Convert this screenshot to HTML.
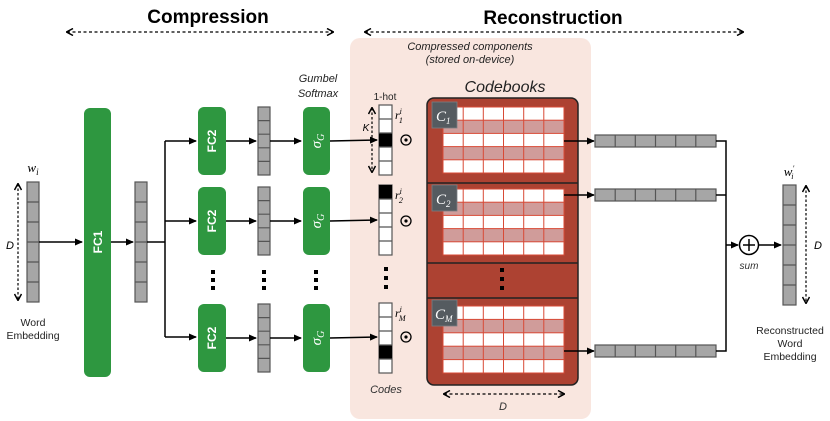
<!DOCTYPE html>
<html><head><meta charset="utf-8"><style>
html,body{margin:0;padding:0;background:#fff;}
svg{display:block;font-family:"Liberation Sans",sans-serif;}
</style></head><body>
<svg width="830" height="421" viewBox="0 0 830 421" xmlns="http://www.w3.org/2000/svg">
<defs>
<marker id="ar" markerWidth="8" markerHeight="8" refX="7" refY="4" orient="auto" markerUnits="userSpaceOnUse"><path d="M0,0.5 L8,4 L0,7.5 z" fill="#000"/></marker>
<marker id="da" markerWidth="8" markerHeight="8" refX="7" refY="4" orient="auto-start-reverse" markerUnits="userSpaceOnUse"><path d="M1,0.5 L7.5,4 L1,7.5" fill="none" stroke="#000" stroke-width="1.5"/></marker>
</defs>
<!-- pink panel -->
<rect x="350" y="38" width="241" height="381" rx="10" fill="#f9e6df"/>
<!-- titles -->
<text x="208" y="23" font-size="19" font-weight="bold" text-anchor="middle">Compression</text>
<text x="553" y="24" font-size="19" font-weight="bold" text-anchor="middle">Reconstruction</text>
<line x1="67" y1="32" x2="333" y2="32" stroke="#000" stroke-width="1.2" stroke-dasharray="3,2.5" marker-start="url(#da)" marker-end="url(#da)"/>
<line x1="365" y1="32" x2="743" y2="32" stroke="#000" stroke-width="1.2" stroke-dasharray="3,2.5" marker-start="url(#da)" marker-end="url(#da)"/>
<text x="470" y="50" font-size="11" font-style="italic" text-anchor="middle" fill="#222">Compressed components</text>
<text x="470" y="63" font-size="11" font-style="italic" text-anchor="middle" fill="#222">(stored on-device)</text>
<text x="318" y="82" font-size="11" font-style="italic" text-anchor="middle" fill="#222">Gumbel</text>
<text x="318" y="97" font-size="11" font-style="italic" text-anchor="middle" fill="#222">Softmax</text>
<text x="385" y="100" font-size="10" text-anchor="middle" fill="#222">1-hot</text>
<text x="505" y="92" font-size="16" font-style="italic" text-anchor="middle" fill="#222">Codebooks</text>

<!-- word embedding -->
<text x="33" y="172" font-size="13" font-style="italic" font-family="Liberation Serif,serif" text-anchor="middle">w<tspan font-size="9" dy="3">i</tspan></text>
<line x1="18" y1="184" x2="18" y2="300" stroke="#000" stroke-width="1.2" stroke-dasharray="2.5,2" marker-start="url(#da)" marker-end="url(#da)"/>
<text x="10" y="249" font-size="11" font-style="italic" text-anchor="middle">D</text>
<g fill="#a6a6a6" stroke="#555" stroke-width="1.2">
<rect x="27" y="182" width="12" height="120"/>
<rect x="135" y="182" width="12" height="120"/>
<rect x="783" y="185" width="13" height="120"/>
</g>
<g stroke="#555" stroke-width="1.2">
<path d="M27 202h12M27 222h12M27 242h12M27 262h12M27 282h12"/>
<path d="M135 202h12M135 222h12M135 242h12M135 262h12M135 282h12"/>
<path d="M783 205h13M783 225h13M783 245h13M783 265h13M783 285h13"/>
</g>
<text x="33" y="326" font-size="10.5" text-anchor="middle" fill="#222">Word</text>
<text x="33" y="339" font-size="10.5" text-anchor="middle" fill="#222">Embedding</text>

<!-- FC1 -->
<rect x="84" y="108" width="27" height="269" rx="6" fill="#2e9740"/>
<text transform="translate(102,242) rotate(-90)" font-size="12" font-weight="bold" fill="#fff" text-anchor="middle">FC1</text>
<line x1="39" y1="242" x2="82" y2="242" stroke="#000" stroke-width="1.5" marker-end="url(#ar)"/>
<line x1="111" y1="242" x2="133" y2="242" stroke="#000" stroke-width="1.5" marker-end="url(#ar)"/>
<path d="M147 242H165M165 141V337" stroke="#000" stroke-width="1.5" fill="none"/>

<!-- rows -->
<g id="row">
</g>
<!-- row boxes -->
<g fill="#2e9740">
<rect x="198" y="107" width="28" height="68" rx="6"/>
<rect x="198" y="187" width="28" height="68" rx="6"/>
<rect x="198" y="304" width="28" height="68" rx="6"/>
<rect x="303" y="107" width="27" height="68" rx="6"/>
<rect x="303" y="187" width="27" height="68" rx="6"/>
<rect x="303" y="304" width="27" height="68" rx="6"/>
</g>
<g font-size="12" font-weight="bold" fill="#fff" text-anchor="middle">
<text transform="translate(216,141) rotate(-90)">FC2</text>
<text transform="translate(216,221) rotate(-90)">FC2</text>
<text transform="translate(216,338) rotate(-90)">FC2</text>
</g>
<g font-size="15" font-style="italic" font-family="Liberation Serif,serif" fill="#fff" text-anchor="middle">
<text transform="translate(321,141) rotate(-90)">σ<tspan font-size="10" dy="3">G</tspan></text>
<text transform="translate(321,221) rotate(-90)">σ<tspan font-size="10" dy="3">G</tspan></text>
<text transform="translate(321,338) rotate(-90)">σ<tspan font-size="10" dy="3">G</tspan></text>
</g>
<g fill="#a6a6a6" stroke="#555" stroke-width="1.2">
<rect x="258" y="107" width="12" height="68"/>
<rect x="258" y="187" width="12" height="68"/>
<rect x="258" y="304" width="12" height="68"/>
</g>
<g stroke="#555" stroke-width="1.2">
<path d="M258 120.6h12M258 134.2h12M258 147.8h12M258 161.4h12"/>
<path d="M258 200.6h12M258 214.2h12M258 227.8h12M258 241.4h12"/>
<path d="M258 317.6h12M258 331.2h12M258 344.8h12M258 358.4h12"/>
</g>
<g stroke="#000" stroke-width="1.5" marker-end="url(#ar)">
<line x1="165" y1="141" x2="196" y2="141"/>
<line x1="165" y1="221" x2="196" y2="221"/>
<line x1="165" y1="337" x2="196" y2="337"/>
<line x1="226" y1="141" x2="256" y2="141"/>
<line x1="226" y1="221" x2="256" y2="221"/>
<line x1="226" y1="338" x2="256" y2="338"/>
<line x1="270" y1="141" x2="301" y2="141"/>
<line x1="270" y1="221" x2="301" y2="221"/>
<line x1="270" y1="338" x2="301" y2="338"/>
<line x1="330" y1="141" x2="377" y2="140"/>
<line x1="330" y1="221" x2="377" y2="220"/>
<line x1="330" y1="338" x2="377" y2="337"/>
</g>
<!-- dots -->
<g fill="#000">
<rect x="211" y="270" width="4" height="4"/><rect x="211" y="278" width="4" height="4"/><rect x="211" y="286" width="4" height="4"/>
<rect x="262" y="270" width="4" height="4"/><rect x="262" y="278" width="4" height="4"/><rect x="262" y="286" width="4" height="4"/>
<rect x="314" y="270" width="4" height="4"/><rect x="314" y="278" width="4" height="4"/><rect x="314" y="286" width="4" height="4"/>
<rect x="384" y="267" width="4" height="4"/><rect x="384" y="276" width="4" height="4"/><rect x="384" y="285" width="4" height="4"/>
</g>

<!-- one-hot codes -->
<g fill="#fff" stroke="#555" stroke-width="1.2">
<rect x="379" y="105" width="13" height="70"/>
<rect x="379" y="185" width="13" height="70"/>
<rect x="379" y="303" width="13" height="70"/>
</g>
<g fill="#000">
<rect x="379" y="133" width="13" height="14"/>
<rect x="379" y="185" width="13" height="14"/>
<rect x="379" y="345" width="13" height="14"/>
</g>
<g stroke="#555" stroke-width="1.2">
<path d="M379 119h13M379 133h13M379 147h13M379 161h13"/>
<path d="M379 199h13M379 213h13M379 227h13M379 241h13"/>
<path d="M379 317h13M379 331h13M379 345h13M379 359h13"/>
</g>
<line x1="372" y1="108" x2="372" y2="172" stroke="#000" stroke-width="1.2" stroke-dasharray="2.5,2" marker-start="url(#da)" marker-end="url(#da)"/>
<text x="366" y="131" font-size="10" font-style="italic" text-anchor="middle">K</text>
<g font-size="12" font-style="italic" font-family="Liberation Serif,serif">
<text x="395" y="119">r<tspan font-size="8" dy="-5">i</tspan><tspan font-size="8" dx="-3" dy="9">1</tspan></text>
<text x="395" y="199">r<tspan font-size="8" dy="-5">i</tspan><tspan font-size="8" dx="-3" dy="9">2</tspan></text>
<text x="395" y="317">r<tspan font-size="8" dy="-5">i</tspan><tspan font-size="8" dx="-3" dy="9">M</tspan></text>
</g>
<g fill="none" stroke="#000" stroke-width="1.3">
<circle cx="406" cy="140" r="5"/><circle cx="406" cy="221" r="5"/><circle cx="406" cy="337" r="5"/>
</g>
<g fill="#000"><circle cx="406" cy="140" r="1.6"/><circle cx="406" cy="221" r="1.6"/><circle cx="406" cy="337" r="1.6"/></g>
<text x="386" y="393" font-size="11" font-style="italic" text-anchor="middle" fill="#333">Codes</text>

<!-- codebooks -->
<rect x="427" y="98" width="151" height="287" rx="7" fill="#ad4232" stroke="#222" stroke-width="1.5"/>
<path d="M427 183H578M427 263H578M427 298H578" stroke="#222" stroke-width="1.5"/>
<g fill="#000"><rect x="500" y="268" width="4" height="4"/><rect x="500" y="277" width="4" height="4"/><rect x="500" y="286" width="4" height="4"/></g>
<!-- grid 1 -->
<g stroke="#d84a36" stroke-width="1">
<rect x="443" y="107" width="121" height="66" fill="#fff"/>
<rect x="443" y="120.2" width="121" height="13.2" fill="#d09c9a"/>
<rect x="443" y="146.6" width="121" height="13.2" fill="#d09c9a"/>
<path d="M463.2 107v66M483.3 107v66M503.5 107v66M523.7 107v66M543.8 107v66" fill="none"/>
<rect x="443" y="189" width="121" height="66" fill="#fff"/>
<rect x="443" y="202.2" width="121" height="13.2" fill="#d09c9a"/>
<rect x="443" y="228.6" width="121" height="13.2" fill="#d09c9a"/>
<path d="M463.2 189v66M483.3 189v66M503.5 189v66M523.7 189v66M543.8 189v66" fill="none"/>
<rect x="443" y="306" width="121" height="67" fill="#fff"/>
<rect x="443" y="319.4" width="121" height="13.4" fill="#d09c9a"/>
<rect x="443" y="346.2" width="121" height="13.4" fill="#d09c9a"/>
<path d="M463.2 306v67M483.3 306v67M503.5 306v67M523.7 306v67M543.8 306v67" fill="none"/>
</g>
<g fill="#555b60" stroke="#7a7f84" stroke-width="0.8">
<rect x="432" y="102" width="25" height="26"/>
<rect x="432" y="185" width="25" height="26"/>
<rect x="432" y="300" width="25" height="26"/>
</g>
<g font-size="15" font-style="italic" font-family="Liberation Serif,serif" fill="#fff">
<text x="436" y="121">C<tspan font-size="9" dy="3">1</tspan></text>
<text x="436" y="204">C<tspan font-size="9" dy="3">2</tspan></text>
<text x="435" y="319">C<tspan font-size="9" dy="3">M</tspan></text>
</g>
<line x1="444" y1="394" x2="564" y2="394" stroke="#000" stroke-width="1.2" stroke-dasharray="3,2.5" marker-start="url(#da)" marker-end="url(#da)"/>
<text x="503" y="410" font-size="11" font-style="italic" text-anchor="middle" fill="#333">D</text>

<!-- outputs -->
<g stroke="#000" stroke-width="1.5" marker-end="url(#ar)">
<line x1="564" y1="141" x2="594" y2="141"/>
<line x1="564" y1="195" x2="594" y2="195"/>
<line x1="564" y1="351" x2="594" y2="351"/>
</g>
<g fill="#a6a6a6" stroke="#555" stroke-width="1.2">
<rect x="595" y="135" width="121" height="12"/>
<rect x="595" y="189" width="121" height="12"/>
<rect x="595" y="345" width="121" height="12"/>
</g>
<g stroke="#555" stroke-width="1.2">
<path d="M615.2 135v12M635.3 135v12M655.5 135v12M675.7 135v12M695.8 135v12"/>
<path d="M615.2 189v12M635.3 189v12M655.5 189v12M675.7 189v12M695.8 189v12"/>
<path d="M615.2 345v12M635.3 345v12M655.5 345v12M675.7 345v12M695.8 345v12"/>
</g>
<path d="M716 141H726V351H716M716 195H726" stroke="#000" stroke-width="1.5" fill="none"/>
<line x1="726" y1="245" x2="738" y2="245" stroke="#000" stroke-width="1.5" marker-end="url(#ar)"/>
<circle cx="749" cy="245" r="9.5" fill="#fff" stroke="#000" stroke-width="1.5"/>
<path d="M743 245h12M749 239v12" stroke="#000" stroke-width="1.5"/>
<line x1="758.5" y1="245" x2="781" y2="245" stroke="#000" stroke-width="1.5" marker-end="url(#ar)"/>
<text x="749" y="269" font-size="10" font-style="italic" text-anchor="middle" fill="#333">sum</text>
<text x="789" y="176" font-size="13" font-style="italic" font-family="Liberation Serif,serif" text-anchor="middle">w<tspan font-size="8" dy="-5">′</tspan><tspan font-size="8" dx="-3" dy="8">i</tspan></text>
<line x1="806" y1="186" x2="806" y2="303" stroke="#000" stroke-width="1.2" stroke-dasharray="2.5,2" marker-start="url(#da)" marker-end="url(#da)"/>
<text x="818" y="249" font-size="11" font-style="italic" text-anchor="middle">D</text>
<text x="790" y="334" font-size="10.5" text-anchor="middle" fill="#222">Reconstructed</text>
<text x="790" y="347" font-size="10.5" text-anchor="middle" fill="#222">Word</text>
<text x="790" y="360" font-size="10.5" text-anchor="middle" fill="#222">Embedding</text>
</svg>
</body></html>
